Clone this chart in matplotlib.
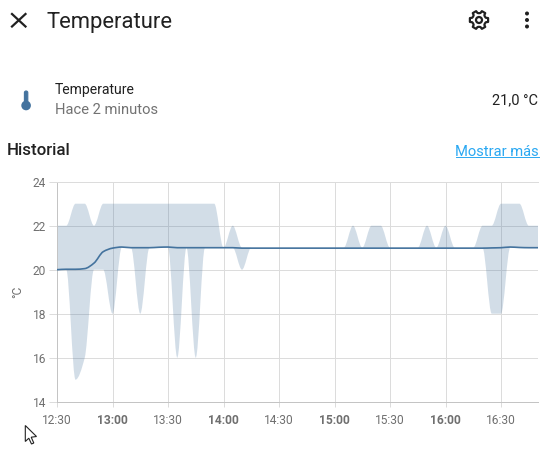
import numpy as np
import matplotlib
matplotlib.use("Agg")
import matplotlib.pyplot as plt
from matplotlib.path import Path
from matplotlib.patches import PathPatch, Polygon, Circle, FancyBboxPatch

plt.rcParams['font.family'] = ['Roboto', 'DejaVu Sans']

minutes = list(range(0, 265, 5))
temp_max = [22, 22, 23, 23, 22, 23, 23, 23, 23, 23, 23, 23, 23, 23, 23, 23, 23, 23,
            21, 22, 21, 21, 21, 21, 21, 21, 21, 21, 21, 21, 21, 21,
            22, 21, 22, 22, 21, 21, 21, 21, 22, 21, 22, 21, 21, 21,
            22, 22, 23, 23, 23, 22, 22]
temp_min = [20, 20, 15, 16, 20, 20, 18, 21, 21, 18, 21, 21, 21, 16, 21, 16, 21, 21,
            21, 21, 20, 21, 21, 21, 21, 21, 21, 21, 21, 21, 21, 21,
            21, 21, 21, 21, 21, 21, 21, 21, 21, 21, 21, 21, 21, 21,
            21, 18, 18, 21, 21, 21, 21]
temp_mean = [20.0, 20.02, 20.02, 20.05, 20.3, 20.82, 20.98, 21.03, 21.0, 21.0, 21.0, 21.02, 21.03, 21.0, 21.0, 21.0, 21.0, 21.0,
             21.0, 21.0, 20.98, 20.98, 20.98, 20.98, 20.98, 20.98, 20.98, 20.98, 20.98, 20.98, 20.98, 20.98,
             20.98, 20.98, 20.98, 20.98, 20.98, 20.98, 20.98, 20.98, 20.98, 20.98, 20.98, 20.98, 20.98, 20.98,
             20.98, 20.99, 21.0, 21.03, 21.01, 21.0, 21.0]
x_ticks = [0, 30, 60, 90, 120, 150, 180, 210, 240]
x_labels = ['12:30', '13:00', '13:30', '14:00', '14:30', '15:00', '15:30', '16:00', '16:30']
hour_labels = ['13:00', '14:00', '15:00', '16:00']
y_ticks = [14, 16, 18, 20, 22, 24]

W, H = 548, 469
BLUE = '#44739e'


def monotone_segments(x, y):
    """Bezier control points of a monotone curve through the data."""
    x, y = np.asarray(x, float), np.asarray(y, float)
    h = np.diff(x)
    s = np.diff(y) / h
    m = np.zeros_like(y)
    m[0], m[-1] = s[0], s[-1]
    for i in range(1, len(y) - 1):
        if s[i - 1] * s[i] > 0:
            m[i] = 2 * s[i - 1] * s[i] / (s[i - 1] + s[i])
    c1 = np.column_stack([x[:-1] + h / 3, y[:-1] + m[:-1] * h / 3])
    c2 = np.column_stack([x[1:] - h / 3, y[1:] - m[1:] * h / 3])
    end = np.column_stack([x[1:], y[1:]])
    return np.column_stack([c1, c2, end]).reshape(-1, 2)


def line_path(x, y):
    v = np.vstack([[x[0], y[0]], monotone_segments(x, y)])
    return Path(v, [Path.MOVETO] + [Path.CURVE4] * (len(v) - 1))


def band_path(x, lo, hi):
    up = monotone_segments(x, hi)
    dn = monotone_segments(x[::-1], lo[::-1])
    v = np.vstack([[x[0], hi[0]], up, [x[-1], lo[-1]], dn, [x[0], hi[0]]])
    codes = [Path.MOVETO] + [Path.CURVE4] * len(up) + [Path.LINETO] + [Path.CURVE4] * len(dn) + [Path.CLOSEPOLY]
    return Path(v, codes)


fig = plt.figure(figsize=(W / 100, H / 100), dpi=100, facecolor='white')

# chart
L, R, T, B = 57.0, 538.0, 181.7, 401.7
ax = fig.add_axes([L / W, 1 - B / H, (R - L) / W, (B - T) / H])
ax.set_xlim(0, 260)
ax.set_ylim(14, 24)
ax.set_xticks(x_ticks)
ax.set_xticklabels(x_labels)
ax.set_yticks(y_ticks)
ax.grid(True, color='#dcdcdc', lw=0.72, zorder=0)
ax.set_axisbelow(True)
ax.spines['top'].set_color('#dcdcdc')
ax.spines['top'].set_linewidth(0.72)
ax.spines['right'].set_visible(False)
for side in ('left', 'bottom'):
    ax.spines[side].set_color('#c4c4c4')
    ax.spines[side].set_linewidth(0.72)
ax.tick_params(axis='y', length=5.8, width=0.72, color='#dcdcdc', pad=2, labelsize=8.64, labelcolor='#6f6f6f')
ax.tick_params(axis='x', length=3.6, width=0.72, color='#dcdcdc', pad=5, labelsize=8.64, labelcolor='#6f6f6f')
for lab in ax.get_xticklabels():
    if lab.get_text() in hour_labels:
        lab.set_fontweight('bold')
ax.add_patch(PathPatch(band_path(np.array(minutes), np.array(temp_min), np.array(temp_max)),
                       facecolor=BLUE, edgecolor='none', alpha=0.24, zorder=2))
ax.add_patch(PathPatch(line_path(minutes, temp_mean), facecolor='none', edgecolor=BLUE,
                       lw=1.2, zorder=3, capstyle='round'))

# page furniture in pixel coordinates
ov = fig.add_axes([0, 0, 1, 1], facecolor='none')
ov.set_xlim(0, W)
ov.set_ylim(H, 0)
ov.axis('off')
ov.text(17.5, 292, '°C', rotation=90, fontsize=8.64, color='#6f6f6f', ha='center', va='center')
ov.text(46.5, 22.5, 'Temperature', fontsize=15.8, color='#212121', ha='left', va='center')
ov.text(55, 90, 'Temperature', fontsize=10.1, color='#212121', ha='left', va='center')
ov.text(55, 110, 'Hace 2 minutos', fontsize=10.6, color='#727272', ha='left', va='center')
ov.text(538.5, 100, '21,0 °C', fontsize=10.5, color='#212121', ha='right', va='center')
ov.text(7, 150.5, 'Historial', fontsize=12.2, color='#212121', ha='left', va='center', fontweight='medium')
ov.text(538.5, 151.5, 'Mostrar más', fontsize=10.6, color='#2aa8f2', ha='right', va='center')
ov.plot([455.5, 538.5], [157.5, 157.5], color='#2aa8f2', lw=0.7)

# close icon
ov.plot([12, 25.5], [14, 26.5], color='#212121', lw=1.6)
ov.plot([25.5, 12], [14, 26.5], color='#212121', lw=1.6)

# kebab icon
for cy in (13.5, 20, 26.5):
    ov.add_patch(Circle((527, cy), 2.0, color='#212121', lw=0))

# gear icon
cx, cy = 479, 20
ang = np.radians(np.arange(0, 360, 60))
pts = []
for a in ang:
    for da, r in [(-30, 6.8), (-18, 7.2), (-12, 9.3), (12, 9.3), (18, 7.2)]:
        t = a + np.radians(da)
        pts.append((cx + r * np.cos(t), cy + r * np.sin(t)))
ov.add_patch(Polygon(pts, closed=True, facecolor='white', edgecolor='#212121', lw=1.6, joinstyle='round'))
ov.add_patch(Circle((cx, cy), 3.0, facecolor='white', edgecolor='#212121', lw=1.6))

# thermometer icon
ov.add_patch(FancyBboxPatch((24.4, 91), 3.4, 12, boxstyle='round,pad=0,rounding_size=1.7',
                            facecolor=BLUE, edgecolor=BLUE, lw=0.8))
ov.add_patch(Circle((26.1, 105.5), 4.8, color=BLUE, lw=0))

# mouse pointer
ov.add_patch(Polygon([(25.3, 425.5), (25.3, 441.5), (28.8, 438.2), (31.5, 444), (33.8, 443), (31.2, 437.2), (36.5, 436.5)],
                     closed=True, facecolor='white', edgecolor='#222222', lw=0.8))

fig.savefig('out.png', dpi=100)
